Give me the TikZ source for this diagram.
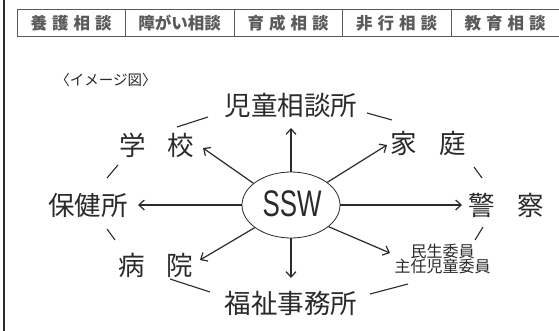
\documentclass[tikz,border=0pt]{standalone}
\usepackage{fontspec}
\newfontfamily\jp{Noto Sans CJK JP}
\newfontfamily\lsans{Liberation Sans}
\usetikzlibrary{arrows.meta,shapes.geometric}
\definecolor{ink}{HTML}{2A2A2A}
\definecolor{tab}{HTML}{5A5A5A}
\begin{document}
\begin{tikzpicture}[x=1pt,y=-1pt,
  big/.style={font=\jp\fontsize{26.5}{28}\selectfont, text=ink, inner sep=0pt},
  small/.style={font=\jp\fontsize{16}{15.5}\selectfont, text=ink, inner sep=0pt, align=center},
  cell/.style={draw=tab, line width=0.8pt, minimum height=27pt, inner sep=0pt, font=\jp\bfseries\fontsize{16.5}{18}\selectfont, text=tab},
  arr/.style={draw=ink, line width=1.2pt, -{Straight Barb[length=5.5pt,width=10pt,line width=1.2pt]}},
  tick/.style={draw=ink, line width=1.1pt}]
\useasboundingbox (0,0) rectangle (559,331);
\fill[white] (0,0) rectangle (559,331);
% left frame line
\draw[ink, line width=1.6pt] (4,0) -- (4,331);
% table
\node[cell, minimum width=108.5pt] (c1) at (71.2,23.2) {養\hspace{5pt}護\hspace{5pt}相\hspace{5pt}談};
\node[cell, minimum width=108.5pt] (c2) at (179.7,23.2) {障がい相談};
\node[cell, minimum width=108.5pt] (c3) at (288.2,23.2) {育\hspace{5pt}成\hspace{5pt}相\hspace{5pt}談};
\node[cell, minimum width=108.5pt] (c4) at (396.7,23.2) {非\hspace{5pt}行\hspace{5pt}相\hspace{5pt}談};
\node[cell, minimum width=108.5pt] (c5) at (505.2,23.2) {教\hspace{5pt}育\hspace{5pt}相\hspace{5pt}談};
% caption
\node[font=\jp\fontsize{14.5}{16}\selectfont, text=ink, inner sep=0pt] (cap) at (106,80) {〈イメージ図〉};
% center
\node[draw=ink, line width=0.8pt, ellipse, minimum width=98pt, minimum height=66pt, inner sep=0pt] (ssw) at (291,205) {};
\node[font=\lsans\fontsize{37}{40}\selectfont, text=ink, inner sep=0pt] (sswt) at (292,204) {\scalebox{0.7}[1]{SSW}};
% outer labels
\node[big] (jido) at (291,105) {児童相談所};
\node[big] (gakko) at (157,145) {学\hspace{22pt}校};
\node[big] (katei) at (428,143) {家\hspace{22pt}庭};
\node[big] (hoken) at (88,205) {保健所};
\node[big] (keisatsu) at (506,205) {警\hspace{22pt}察};
\node[big] (byoin) at (156,265) {病\hspace{22pt}院};
\node[big] (fukushi) at (291,303) {福祉事務所};
\node[small] (minsei) at (442.5,259) {民生委員\\主任児童委員};
% arrows
\draw[arr] (ssw.north) -- (291,128);
\draw[arr] (ssw.south) -- (291,278);
\draw[arr] (ssw.west) -- (138,205);
\draw[arr] (ssw.east) -- (462,205);
\draw[arr] (ssw.150) -- (203,148);
\draw[arr] (ssw.32) -- (387,145);
\draw[arr] (ssw.212) -- (200,260);
\draw[arr] (ssw.-30) -- (390,253);
% ring ticks
\coordinate (t1a) at (177,127); \coordinate (t1b) at (208,117);
\coordinate (t2a) at (107,178); \coordinate (t2b) at (118,165);
\coordinate (t3a) at (367,113); \coordinate (t3b) at (392,120);
\coordinate (t4a) at (474,167); \coordinate (t4b) at (482,178);
\coordinate (t5a) at (107,229); \coordinate (t5b) at (115,240);
\coordinate (t6a) at (170,279); \coordinate (t6b) at (210,292);
\coordinate (t7a) at (483,227); \coordinate (t7b) at (475,240);
\coordinate (t8a) at (370,294); \coordinate (t8b) at (408,284);
\foreach \i in {1,...,8} {\draw[tick] (t\i a) -- (t\i b);}
\end{tikzpicture}
\end{document}
